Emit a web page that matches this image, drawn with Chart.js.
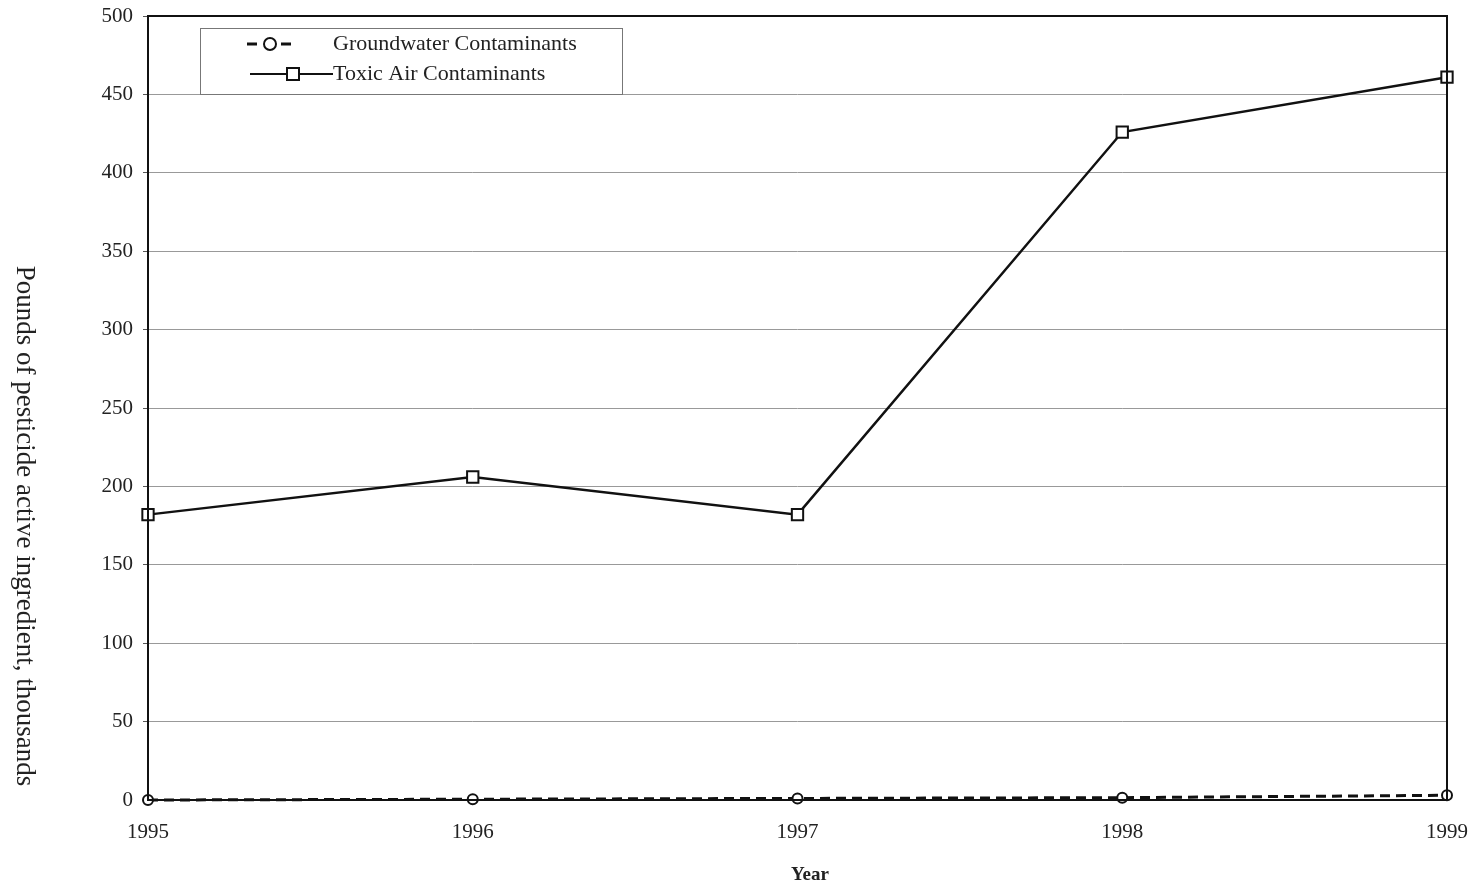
<!DOCTYPE html>
<html>
<head>
<meta charset="utf-8">
<script src="https://cdn.jsdelivr.net/npm/chart.js@4/dist/chart.umd.min.js"></script>
<style>
html,body{margin:0;padding:0;background:#fff;}
#wrap{width:1478px;height:887px;position:relative;}
</style>
</head>
<body>
<div id="wrap"><canvas id="c" width="1478" height="887"></canvas></div>
<script>
const years = ['1995','1996','1997','1998','1999'];
const groundwater = [0, 0.5, 1, 1.5, 3];
const toxicAir = [182, 206, 182, 426, 461];
const yTicks = [0,50,100,150,200,250,300,350,400,450,500];
const seriesNames = ['Groundwater Contaminants','Toxic Air Contaminants'];
const yTitle = 'Pounds of pesticide active ingredient, thousands';
const xTitle = 'Year';

const FONT = "'Liberation Serif','Times New Roman',serif";

const decor = {
  id:'decor',
  afterDraw(chart){
    const ctx = chart.ctx, a = chart.chartArea;
    ctx.save();
    ctx.strokeStyle = '#111'; ctx.lineWidth = 2;
    ctx.strokeRect(a.left, a.top, a.right - a.left, a.bottom - a.top);
    ctx.fillStyle = '#222';
    ctx.font = "27px " + FONT;
    ctx.translate(24, 526);
    ctx.rotate(Math.PI/2);
    ctx.textAlign = 'center'; ctx.textBaseline = 'middle';
    ctx.fillText(yTitle, 0, 0);
    ctx.restore();
    ctx.save();
    ctx.fillStyle = '#222';
    ctx.font = "bold 19px " + FONT;
    ctx.textAlign = 'center'; ctx.textBaseline = 'middle';
    ctx.fillText(xTitle, 810, 875);
    // legend
    const lx = 200, ly = 28, lw = 422, lh = 66;
    ctx.fillStyle = '#fff';
    ctx.fillRect(lx, ly, lw, lh);
    ctx.strokeStyle = '#777'; ctx.lineWidth = 1;
    ctx.strokeRect(lx + 0.5, ly + 0.5, lw, lh);
    const ds = chart.data.datasets;
    let y1 = 44;
    ctx.strokeStyle = '#111'; ctx.lineWidth = 3;
    ctx.setLineDash([10,7]);
    ctx.beginPath(); ctx.moveTo(247, y1); ctx.lineTo(298, y1); ctx.stroke();
    ctx.setLineDash([]);
    ctx.lineWidth = 2; ctx.fillStyle = '#fff';
    ctx.beginPath(); ctx.arc(270, y1, 6, 0, Math.PI*2); ctx.fill(); ctx.stroke();
    let y2 = 74;
    ctx.lineWidth = 2;
    ctx.beginPath(); ctx.moveTo(250, y2); ctx.lineTo(333, y2); ctx.stroke();
    ctx.fillStyle = '#fff';
    ctx.fillRect(287, y2-6, 12, 12); ctx.strokeRect(287, y2-6, 12, 12);
    ctx.fillStyle = '#222';
    ctx.font = "22px " + FONT;
    ctx.textAlign = 'left';
    ctx.fillText(ds[0].label, 333, y1);
    ctx.fillText(ds[1].label, 333, y2);
    ctx.restore();
  }
};

new Chart(document.getElementById('c'), {
  type:'line',
  data:{
    labels: years,
    datasets:[
      {label: seriesNames[0], data: groundwater, borderColor:'#111', borderWidth:3, borderDash:[10,6],
       pointStyle:'circle', pointRadius:5, pointBorderWidth:2, pointBackgroundColor:'#fff', pointBorderColor:'#111', tension:0, clip:false},
      {label: seriesNames[1], data: toxicAir, borderColor:'#111', borderWidth:2.5,
       pointStyle:'rect', pointRadius:8, pointBorderWidth:2, pointBackgroundColor:'#fff', pointBorderColor:'#111', tension:0, clip:false}
    ]
  },
  options:{
    responsive:false,
    animation:false,
    layout:{padding:{top:16, right:31, left:0, bottom:0}},
    plugins:{legend:{display:false}, tooltip:{enabled:false}},
    scales:{
      x:{
        type:'category', offset:false,
        grid:{display:false, drawTicks:false},
        border:{display:false},
        ticks:{font:{family:FONT, size:21}, color:'#222', padding:20, maxRotation:0, autoSkip:false},
        afterFit(s){ s.height = 87; s.paddingLeft = 0; s.paddingRight = 0; }
      },
      y:{
        min:0, max:500,
        afterBuildTicks(s){ s.ticks = yTicks.map(v=>({value:v})); },
        grid:{color:'#999', lineWidth:1, tickLength:5, tickColor:'#555'},
        border:{display:false},
        ticks:{font:{family:FONT, size:21}, color:'#222', padding:10},
        afterFit(s){ s.width = 148; s.paddingTop = 0; s.paddingBottom = 0; }
      }
    }
  },
  plugins:[decor]
});
</script>
</body>
</html>
